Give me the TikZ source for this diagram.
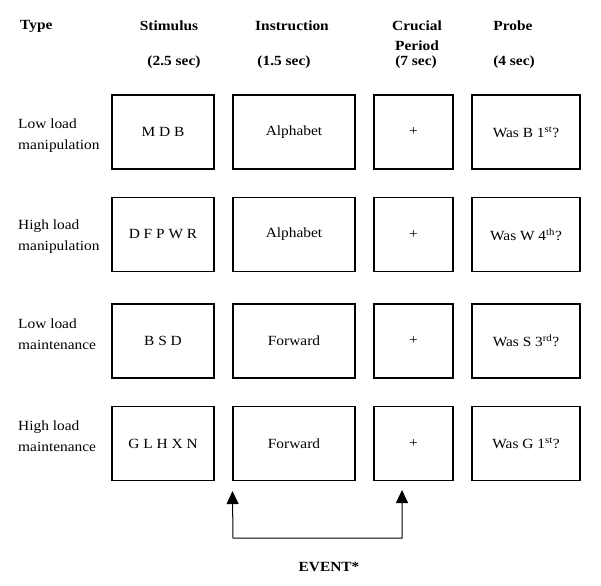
\documentclass[tikz,border=0pt]{standalone}
\usepackage{fontspec}
\setmainfont{Liberation Serif}[FakeStretch=1.1]
\usepackage{tikz}
\usetikzlibrary{arrows.meta}

\tikzset{
  box/.style={draw, line width=1.1pt, minimum height=74pt, inner sep=0pt,
    font=\fontsize{14}{16}\selectfont},
  stim/.style={box, minimum width=102pt},
  instr/.style={box, minimum width=122pt},
  cruc/.style={box, minimum width=79pt},
  probe/.style={box, minimum width=108pt},
  head/.style={inner sep=0pt, align=center, font=\fontsize{14}{20}\selectfont\bfseries},
  kind/.style={inner sep=0pt, anchor=west, align=left, font=\fontsize{14}{21}\selectfont},
  evtip/.tip={Triangle[length=13pt, width=12pt]}
}

\begin{document}
\begin{tikzpicture}[x=1pt, y=-1pt]
    \useasboundingbox (0,0) rectangle (601,585);

    % column heads
    \node[head, anchor=west] (Type) at (20,26) {Type};
    \node[head] (Stim) at (169,26) {Stimulus};
    \node[head] (Instr) at (292,26) {Instruction};
    \node[head] (Cruc) at (417,36) {Crucial\\Period};
    \node[head] (Probe) at (513,26) {Probe};

    \node[head] (StimT) at (174,62) {(2.5 sec)};
    \node[head] (InstrT) at (284,62) {(1.5 sec)};
    \node[head] (CrucT) at (416,62) {(7 sec)};
    \node[head] (ProbeT) at (514,62) {(4 sec)};

    % row labels
    \node[kind] (K1) at (18,136) {Low load\\manipulation};
    \node[kind] (K2) at (18,237) {High load\\manipulation};
    \node[kind] (K3) at (18,334) {Low load\\maintenance};
    \node[kind] (K4) at (18,436) {High load\\maintenance};

    % trials
    \node[stim] (s1) at (163,132) {M D B};
    \node[instr] (i1) at (294,132) {Alphabet};
    \node[cruc] (c1) at (413.5,132) {+};
    \node[probe] (p1) at (526,132) {Was B 1\textsuperscript{st}?};

    \node[stim] (s2) at (163,234.5) {D F P W R};
    \node[instr] (i2) at (294,234.5) {Alphabet};
    \node[cruc] (c2) at (413.5,234.5) {+};
    \node[probe] (p2) at (526,234.5) {Was W 4\textsuperscript{th}?};

    \node[stim] (s3) at (163,341) {B S D};
    \node[instr] (i3) at (294,341) {Forward};
    \node[cruc] (c3) at (413.5,341) {+};
    \node[probe] (p3) at (526,341) {Was S 3\textsuperscript{rd}?};

    \node[stim] (s4) at (163,443.5) {G L H X N};
    \node[instr] (i4) at (294,443.5) {Forward};
    \node[cruc] (c4) at (413.5,443.5) {+};
    \node[probe] (p4) at (526,443.5) {Was G 1\textsuperscript{st}?};

    % event marker
    \coordinate (TipL) at ([yshift=-10pt]i4.south west);
    \coordinate (TipR) at (402,490);
    \coordinate (EvL) at (233,538);
    \coordinate (EvR) at (402,538);

    \draw[line width=1pt, {evtip}-{evtip}] (TipL) -- (EvL) -- (EvR) -- (TipR);

    \node[head] (Event) at (329,567) {EVENT*};
  \end{tikzpicture}
\end{document}
